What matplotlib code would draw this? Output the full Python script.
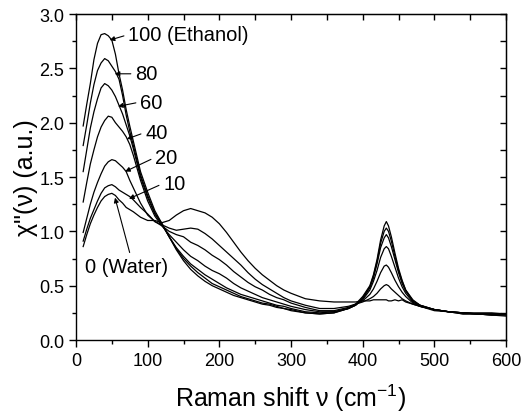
import matplotlib
matplotlib.use("Agg")
import matplotlib.pyplot as plt
from matplotlib.ticker import MultipleLocator

plt.rcParams['font.family'] = ['Liberation Sans', 'DejaVu Sans']

# Raman shift grid (cm^-1)
shift = [10, 15, 20, 25, 30, 35, 40, 45, 50, 55, 60, 65, 70, 75, 80,
         90, 100, 110, 120, 130, 140, 150, 160, 170, 180, 190, 200, 210, 220,
         230, 240, 250, 260, 270, 280, 290, 300,
         320, 340, 360, 380, 390,
         400, 410, 415, 420, 425, 430, 433, 436, 440, 445, 450, 455, 460, 470, 480,
         500, 520, 540, 560, 580, 600]

water = [0.86, 0.97, 1.07, 1.15, 1.22, 1.28, 1.32, 1.34, 1.35, 1.33, 1.29, 1.26, 1.22, 1.20, 1.18,
         1.13, 1.10, 1.10, 1.08, 1.10, 1.15, 1.19, 1.21, 1.19, 1.17, 1.13, 1.07, 0.99, 0.90,
         0.81, 0.73, 0.66, 0.60, 0.55, 0.50, 0.46, 0.43,
         0.38, 0.36, 0.35, 0.35, 0.35,
         0.36, 0.36, 0.37, 0.37, 0.37, 0.37, 0.37, 0.36, 0.36, 0.37, 0.36, 0.37, 0.35, 0.33, 0.31,
         0.28, 0.26, 0.25, 0.25, 0.25, 0.24]

eth10 = [0.91, 1.02, 1.12, 1.20, 1.28, 1.35, 1.40, 1.42, 1.43, 1.41, 1.38, 1.36, 1.34, 1.32, 1.29,
         1.22, 1.16, 1.09, 1.06, 1.03, 1.01, 1.02, 1.03, 1.02, 0.98, 0.93, 0.87, 0.81, 0.75,
         0.69, 0.62, 0.56, 0.51, 0.47, 0.43, 0.39, 0.36,
         0.32, 0.29, 0.29, 0.31, 0.33,
         0.35, 0.38, 0.40, 0.43, 0.47, 0.50, 0.51, 0.50, 0.47, 0.44, 0.41, 0.38, 0.36, 0.33, 0.31,
         0.28, 0.26, 0.25, 0.24, 0.24, 0.24]

eth20 = [0.99, 1.12, 1.25, 1.36, 1.45, 1.53, 1.60, 1.64, 1.66, 1.65, 1.62, 1.59, 1.55, 1.47, 1.40,
         1.26, 1.15, 1.09, 1.05, 1.00, 0.97, 0.95, 0.90, 0.87, 0.83, 0.78, 0.74, 0.69, 0.63,
         0.58, 0.53, 0.49, 0.46, 0.42, 0.39, 0.37, 0.34,
         0.30, 0.27, 0.27, 0.30, 0.33,
         0.36, 0.42, 0.47, 0.54, 0.62, 0.68, 0.69, 0.67, 0.62, 0.55, 0.49, 0.44, 0.40, 0.34, 0.31,
         0.28, 0.26, 0.25, 0.24, 0.24, 0.24]

eth40 = [1.27, 1.45, 1.62, 1.75, 1.87, 1.96, 2.02, 2.06, 2.05, 2.00, 1.96, 1.92, 1.87, 1.80, 1.70,
         1.47, 1.28, 1.14, 1.05, 0.97, 0.90, 0.83, 0.77, 0.73, 0.68, 0.64, 0.61, 0.57, 0.52,
         0.48, 0.45, 0.42, 0.39, 0.37, 0.35, 0.33, 0.31,
         0.28, 0.26, 0.26, 0.29, 0.32,
         0.37, 0.46, 0.54, 0.64, 0.76, 0.84, 0.86, 0.84, 0.77, 0.67, 0.57, 0.49, 0.43, 0.35, 0.31,
         0.27, 0.26, 0.25, 0.24, 0.23, 0.24]

eth60 = [1.55, 1.75, 1.95, 2.10, 2.22, 2.32, 2.36, 2.34, 2.30, 2.24, 2.16, 2.08, 1.98, 1.88, 1.76,
         1.50, 1.31, 1.16, 1.06, 0.95, 0.85, 0.77, 0.70, 0.65, 0.60, 0.56, 0.52, 0.48, 0.45,
         0.42, 0.40, 0.38, 0.36, 0.34, 0.32, 0.31, 0.29,
         0.26, 0.25, 0.26, 0.29, 0.32,
         0.38, 0.48, 0.57, 0.70, 0.85, 0.94, 0.97, 0.94, 0.86, 0.74, 0.62, 0.52, 0.45, 0.36, 0.32,
         0.28, 0.26, 0.24, 0.24, 0.23, 0.23]

eth80 = [1.79, 1.98, 2.18, 2.35, 2.48, 2.55, 2.59, 2.57, 2.52, 2.47, 2.40, 2.25, 2.07, 1.92, 1.79,
         1.52, 1.33, 1.17, 1.07, 0.95, 0.84, 0.75, 0.68, 0.62, 0.57, 0.52, 0.49, 0.46, 0.43,
         0.40, 0.38, 0.36, 0.34, 0.33, 0.31, 0.29, 0.28,
         0.25, 0.24, 0.25, 0.29, 0.32,
         0.39, 0.49, 0.59, 0.72, 0.89, 1.00, 1.03, 1.00, 0.91, 0.77, 0.64, 0.54, 0.46, 0.36, 0.32,
         0.28, 0.26, 0.25, 0.24, 0.24, 0.23]

eth100 = [1.97, 2.17, 2.36, 2.58, 2.73, 2.81, 2.82, 2.80, 2.76, 2.63, 2.45, 2.30, 2.12, 1.97, 1.83,
          1.55, 1.36, 1.19, 1.07, 0.95, 0.83, 0.73, 0.65, 0.59, 0.54, 0.50, 0.47, 0.44, 0.41,
          0.39, 0.37, 0.35, 0.33, 0.32, 0.30, 0.29, 0.27,
          0.25, 0.24, 0.25, 0.29, 0.33,
          0.40, 0.50, 0.60, 0.74, 0.92, 1.05, 1.09, 1.05, 0.95, 0.80, 0.66, 0.55, 0.46, 0.37, 0.32,
          0.28, 0.26, 0.24, 0.24, 0.23, 0.22]

series = [water, eth10, eth20, eth40, eth60, eth80, eth100]

# annotation text, arrow tip (x, y) and text anchor (x, y)
labels = ["100 (Ethanol)", "80", "60", "40", "20", "10"]
tips = [(47, 2.76), (54, 2.45), (58.6, 2.15), (71, 1.85), (68.5, 1.55), (74, 1.30)]
text_pos = [(72.6, 2.81), (82.3, 2.45), (89.3, 2.19), (96.3, 1.91), (110.2, 1.68), (121.4, 1.44)]

fig = plt.figure(figsize=(5.22, 4.14), dpi=100)
ax = fig.add_axes([0.1456, 0.1763, 0.8238, 0.7874])

for s in series:
    ax.plot(shift, s, color='black', lw=0.9)

arrow = dict(arrowstyle='-|>', color='black', lw=0.8, mutation_scale=7,
             shrinkA=1, shrinkB=0, relpos=(0, 0.5))
for lab, tip, pos in zip(labels, tips, text_pos):
    ax.annotate(lab, xy=tip, xytext=pos, ha='left', va='center', fontsize=14.5,
                arrowprops=arrow)

ax.annotate("0 (Water)", xy=(54.4, 1.31), xytext=(12.6, 0.68), ha='left', va='center',
            fontsize=14.5,
            arrowprops=dict(arrowstyle='-|>', color='black', lw=0.8, mutation_scale=7,
                            shrinkA=1, shrinkB=0, relpos=(0.55, 1.0)))

ax.set_xlim(0, 600)
ax.set_ylim(0.0, 3.0)
ax.xaxis.set_major_locator(MultipleLocator(100))
ax.xaxis.set_minor_locator(MultipleLocator(50))
ax.yaxis.set_major_locator(MultipleLocator(0.5))
ax.yaxis.set_minor_locator(MultipleLocator(0.25))
ax.yaxis.set_major_formatter(plt.FormatStrFormatter('%.1f'))

ax.tick_params(which='both', direction='out', labelsize=13, width=1)
ax.tick_params(which='major', length=5)
ax.tick_params(which='minor', length=3)

# mirrored inward ticks on top and right
top = ax.secondary_xaxis('top')
top.xaxis.set_major_locator(MultipleLocator(100))
top.xaxis.set_minor_locator(MultipleLocator(50))
top.tick_params(which='both', direction='in', labeltop=False, width=1)
top.tick_params(which='major', length=4)
top.tick_params(which='minor', length=4)
right = ax.secondary_yaxis('right')
right.yaxis.set_major_locator(MultipleLocator(0.5))
right.yaxis.set_minor_locator(MultipleLocator(0.25))
right.tick_params(which='both', direction='in', labelright=False, width=1)
right.tick_params(which='major', length=4)
right.tick_params(which='minor', length=4)

for sp in ax.spines.values():
    sp.set_linewidth(1.0)

ax.set_xlabel('Raman shift \u03bd (cm$^{\\mathregular{-1}}$)', fontsize=18, labelpad=9)
ax.set_ylabel('\u03c7"(\u03bd) (a.u.)', fontsize=18, labelpad=1)

fig.savefig('out.png', dpi=100)
